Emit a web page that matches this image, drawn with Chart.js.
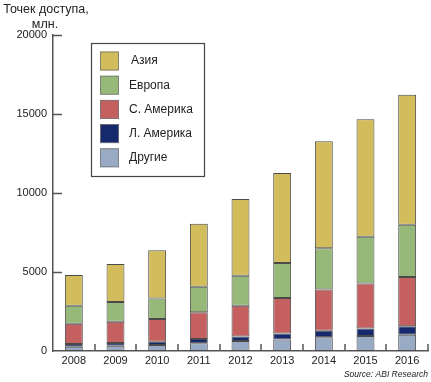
<!DOCTYPE html>
<html>
<head>
<meta charset="utf-8">
<script src="https://cdn.jsdelivr.net/npm/chart.js@4/dist/chart.umd.min.js"></script>
<style>
html, body { margin: 0; padding: 0; background: #fff; }
</style>
</head>
<body>
<canvas id="chart" width="431" height="382"></canvas>
<script>
const years = ['2008', '2009', '2010', '2011', '2012', '2013', '2014', '2015', '2016'];
// сегменты стека, снизу вверх
const others = [270, 340, 380, 490, 630, 720, 870, 950, 1030];
const latAmerica = [170, 170, 210, 270, 280, 380, 410, 480, 530];
const northAmerica = [1290, 1340, 1440, 1690, 1960, 2250, 2620, 2850, 3120];
const europe = [1140, 1250, 1300, 1620, 1900, 2220, 2600, 2950, 3310];
const asia = [1940, 2410, 3040, 3990, 4850, 5700, 6770, 7430, 8230];
const yTicks = [0, 5000, 10000, 15000, 20000];

const FONT = '"Liberation Sans", Arial, sans-serif';
const AXIS = '#555';

// короткие засечки, легенда в рамке и подписи
const extras = {
  id: 'extras',
  afterDraw(chart) {
    const ctx = chart.ctx;
    const x = chart.scales.x, y = chart.scales.y;
    const area = chart.chartArea;
    ctx.save();
    ctx.strokeStyle = AXIS;
    ctx.lineWidth = 1.5;
    ctx.beginPath();
    yTicks.forEach(v => {
      const py = Math.round(y.getPixelForValue(v)) + 0.5;
      if (v === 0) return;
      ctx.moveTo(area.left, py);
      ctx.lineTo(area.left + 9, py);
    });
    const step = (area.right - area.left) / years.length;
    for (let i = 1; i <= years.length; i++) {
      const px = Math.round(area.left + step * i);
      ctx.moveTo(px, area.bottom);
      ctx.lineTo(px, area.bottom - 7);
    }
    ctx.stroke();

    // легенда
    const bx = 91, by = 43, bw = 113, bh = 133;
    ctx.lineWidth = 1.2;
    ctx.strokeStyle = '#444';
    ctx.strokeRect(bx + 0.5, by + 0.5, bw, bh);
    const items = chart.data.datasets.slice().reverse();
    ctx.font = '12px ' + FONT;
    ctx.textBaseline = 'middle';
    ctx.textAlign = 'left';
    items.forEach((ds, i) => {
      const cy = 61 + i * 24.2;
      ctx.fillStyle = ds.backgroundColor;
      ctx.fillRect(100, cy - 9.5, 19, 19);
      ctx.strokeStyle = '#777';
      ctx.lineWidth = 0.8;
      ctx.strokeRect(100.5, cy - 9, 18, 18);
      ctx.fillStyle = '#222';
      ctx.fillText(ds.label, i === 0 ? 131 : 129, cy);
    });

    // заголовок оси и источник
    ctx.fillStyle = '#222';
    ctx.textAlign = 'center';
    ctx.font = '12.5px ' + FONT;
    ctx.fillText('Точек доступа,', 46, 10);
    ctx.fillText('млн.', 45, 25);
    ctx.textAlign = 'right';
    ctx.font = 'italic 8.5px ' + FONT;
    ctx.fillText('Source: ABI Research', 428, 375);
    ctx.restore();
  }
};

function seg(label, data, color) {
  return {
    label, data,
    backgroundColor: color,
    borderColor: '#4a4a4a',
    borderWidth: 1,
    borderSkipped: false,
    barPercentage: 0.43,
    categoryPercentage: 1
  };
}

new Chart(document.getElementById('chart'), {
  type: 'bar',
  data: {
    labels: years,
    datasets: [
      seg('Другие', others, '#99aac4'),
      seg('Л. Америка', latAmerica, '#16296c'),
      seg('С. Америка', northAmerica, '#c4605f'),
      seg('Европа', europe, '#96b97a'),
      seg('Азия', asia, '#d2bc5b')
    ]
  },
  options: {
    responsive: false,
    animation: false,
    layout: { padding: { top: 35, right: 3, left: 0, bottom: 0 } },
    plugins: { legend: { display: false }, tooltip: { enabled: false } },
    scales: {
      x: {
        stacked: true,
        afterFit: s => { s.height = 31; },
        grid: { display: false, drawTicks: false },
        border: { display: true, color: AXIS, width: 1.5 },
        ticks: { color: '#222', font: { family: FONT, size: 11 }, padding: 3, maxRotation: 0 }
      },
      y: {
        stacked: true,
        min: 0, max: 20000,
        afterFit: s => { s.width = 53; },
        afterBuildTicks: s => { s.ticks = yTicks.map(v => ({ value: v })); },
        grid: { display: false, drawTicks: false },
        border: { display: true, color: AXIS, width: 1.5 },
        ticks: { color: '#222', font: { family: FONT, size: 11 }, padding: 6, callback: v => String(v) }
      }
    }
  },
  plugins: [extras]
});
</script>
</body>
</html>
